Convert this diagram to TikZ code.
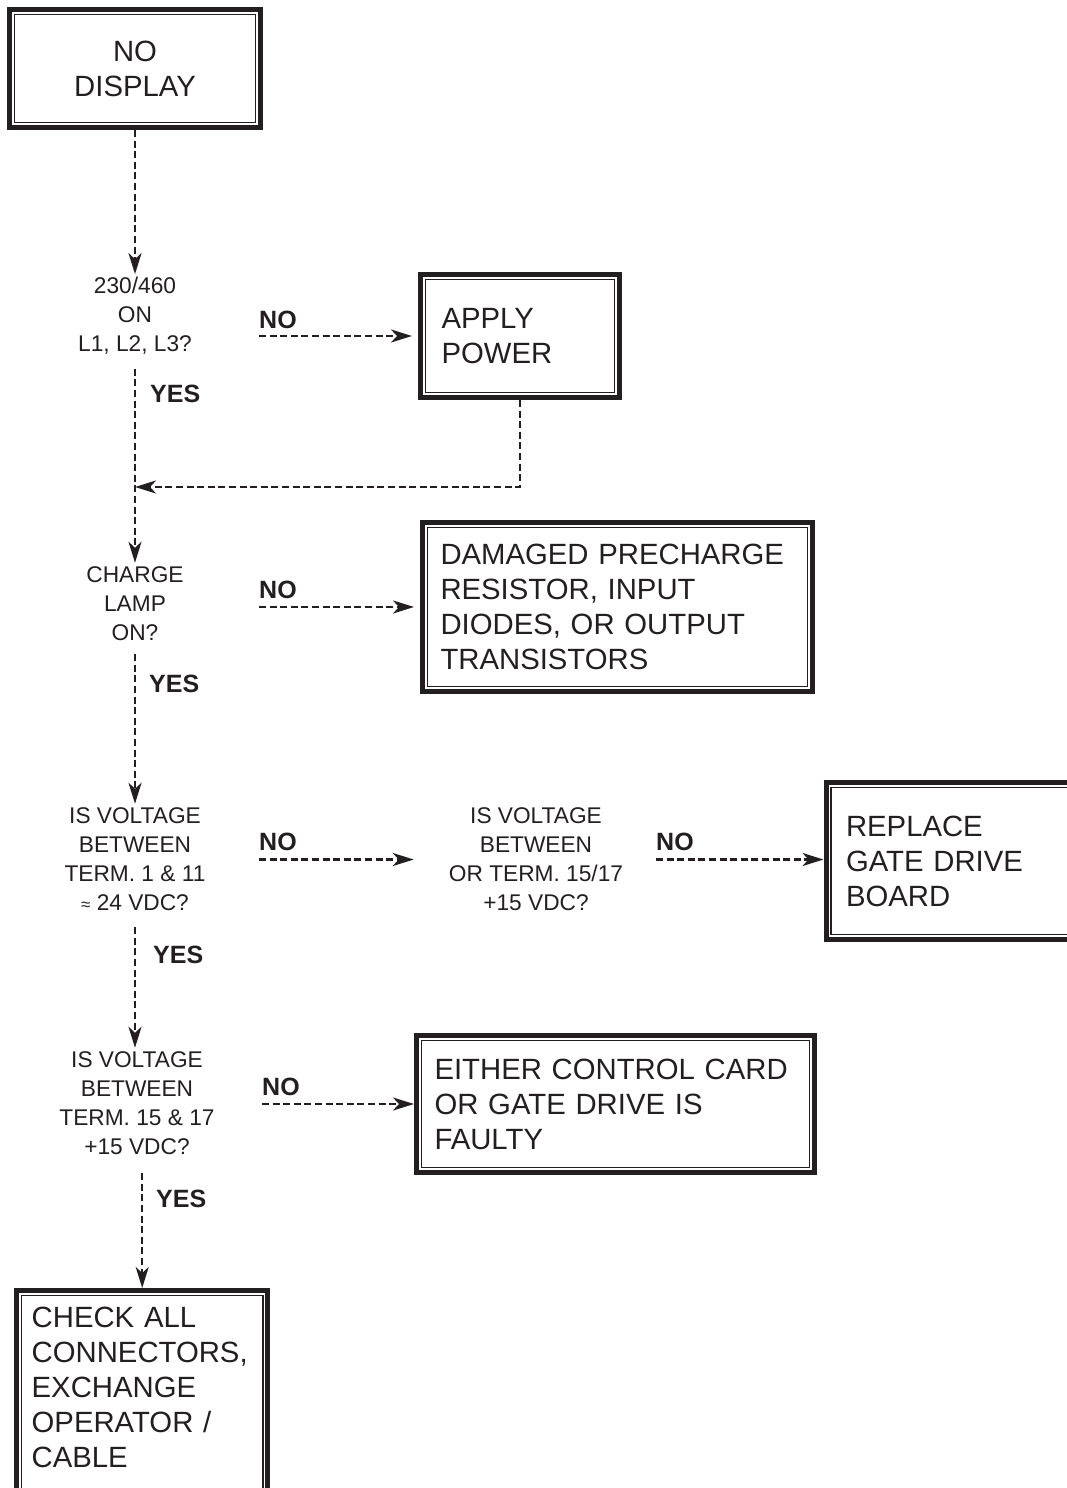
\documentclass[tikz,border=0pt]{standalone}
\usepackage{fontspec}
\setmainfont{Liberation Sans}
\usetikzlibrary{arrows.meta,calc}
\definecolor{ink}{RGB}{35,31,32}
\begin{document}
\begin{tikzpicture}[x=1pt,y=-1pt,
  flow/.style={draw=ink, line width=2.4pt, dash pattern=on 7pt off 3.6pt, -{Stealth[length=21pt,width=13pt,inset=6pt]}},
  frame/.style={draw=ink, line width=5pt},
  innerline/.style={draw=ink, line width=1.4pt},
  boxtxt/.style={font=\fontsize{29.3}{35}\selectfont, text=ink},
  abox/.style={frame, boxtxt, align=left, inner xsep=18pt, inner ysep=0pt},
  qtxt/.style={font=\fontsize{22.7}{29}\selectfont, align=center, inner sep=0pt, text=ink},
  lbl/.style={font=\fontsize{25}{30}\selectfont\bfseries, inner sep=0pt, anchor=south west, text=ink},
]
\useasboundingbox (0,0) rectangle (1066,1488);
\newcommand\dframe[1]{\draw[innerline] ([shift={(7.5,7.5)}]#1.north west) rectangle ([shift={(-7.5,-7.5)}]#1.south east);}

% boxes
\node[abox, align=center, minimum width=251pt, minimum height=118pt] (nodisp) at (135,68.5) {NO\\DISPLAY};
\dframe{nodisp}
\node[abox, inner xsep=21pt, minimum width=199pt, minimum height=123pt, text width=157pt] (apply) at (520,336) {APPLY\\POWER};
\dframe{apply}
\node[abox, minimum width=390pt, minimum height=169pt, text width=354pt] (damaged) at (617.5,607) {DAMAGED PRECHARGE\\RESISTOR, INPUT\\DIODES, OR OUTPUT\\TRANSISTORS};
\dframe{damaged}
\node[abox, inner xsep=20pt, minimum width=274pt, minimum height=157pt, text width=234pt] (replace) at (963,861) {REPLACE\\GATE DRIVE\\BOARD};
\dframe{replace}
\node[abox, minimum width=398pt, minimum height=137pt, text width=362pt] (either) at (615.5,1104) {EITHER CONTROL CARD\\OR GATE DRIVE IS\\FAULTY};
\dframe{either}
\node[boxtxt, align=left, anchor=north west, inner xsep=15pt, inner ysep=16pt, text width=221pt] (check) at (16.5,1290.5) {CHECK ALL\\CONNECTORS,\\EXCHANGE\\OPERATOR /\\CABLE};
\coordinate (chkbot) at ($(check.north east)+(0,240)$);
\draw[frame] (check.north west) rectangle (chkbot);
\draw[innerline] ($(check.north west)+(5,5)$) rectangle ($(chkbot)+(-5,0)$);

% questions
\node[qtxt] (q1) at (135,316) {230/460\\ON\\L1, L2, L3?};
\node[qtxt] (q2) at (135,604) {CHARGE\\LAMP\\ON?};
\node[qtxt] (q3) at (135,859.5) {IS VOLTAGE\\BETWEEN\\TERM. 1 \& 11\\{\fontsize{17}{29}\selectfont ≈} 24 VDC?};
\node[qtxt, inner xsep=35pt] (qm) at (536,859.5) {IS VOLTAGE\\BETWEEN\\OR TERM. 15/17\\+15 VDC?};
\node[qtxt] (q4) at (137,1103.5) {IS VOLTAGE\\BETWEEN\\TERM. 15 \& 17\\+15 VDC?};

% labels
\node[lbl] (no1) at (259,329) {NO};
\node[lbl] (yes1) at (150,403) {YES};
\node[lbl] (no2) at (259,599) {NO};
\node[lbl] (yes2) at (149,693) {YES};
\node[lbl] (no3) at (259,851) {NO};
\node[lbl] (no4) at (656,851) {NO};
\node[lbl] (yes3) at (153,964) {YES};
\node[lbl] (no5) at (262,1096) {NO};
\node[lbl] (yes4) at (156,1208) {YES};

% connectors
\draw[flow, shorten >=3pt] (nodisp.south) -- (nodisp.south |- q1.north);
\draw[flow, shorten >=4pt] ($(q1.south)+(0,14)$) -- (q2.north);
\coordinate (m1) at ($(q1.south |- apply.south)+(0,87)$);
\draw[flow] (apply.south) |- (m1);
\draw[flow, shorten >=6pt] (no1.south west |- apply.west) -- (apply.west);
\draw[flow, shorten >=6pt] (no2.south west |- damaged.west) -- (damaged.west);
\draw[flow, shorten >=4pt] ($(q2.south)+(0,13)$) -- (q3.north);
\draw[flow] (no3.south west |- qm.west) -- (qm.west);
\draw[flow] (no4.south west |- qm.east) -- (qm.east -| replace.west);
\draw[flow, shorten >=4pt] ($(q3.south)+(0,16)$) -- (q3.south |- q4.north);
\draw[flow] (no5.south west |- either.west) -- (either.west);
\draw[flow] ($(q4.south -| check.north)+(0,18)$) -- ($(check.north)+(0,-2.5)$);
\end{tikzpicture}
\end{document}
